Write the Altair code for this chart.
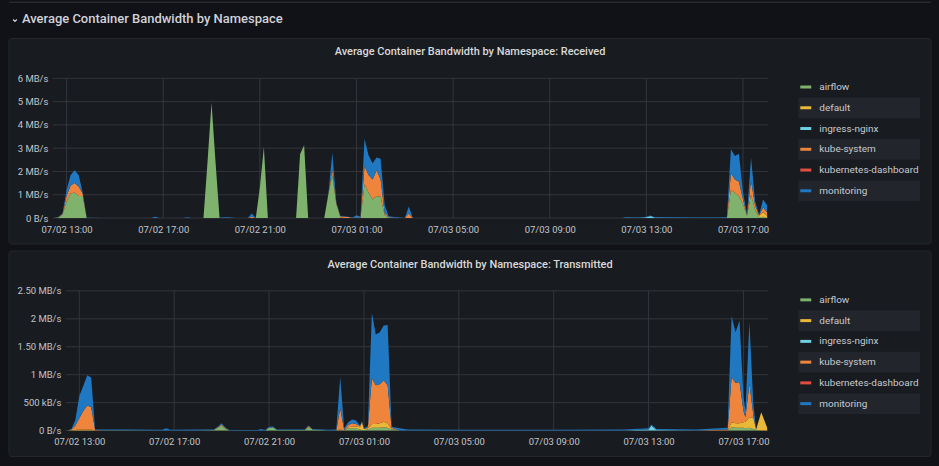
import altair as alt
import pandas as pd

FONT = "Roboto"
BG = "#111217"
PANEL = "#181b1f"
BORDER = "#25282d"
GRID = "#33363b"
STRIPE = "#22252b"
LABEL = "#c2c5cc"
LEGTEXT = "#c7cad1"
TITLE = "#d8d9da"
TEXT_HDR = "#d0d1d9"

NAMESPACES = ["airflow", "default", "ingress-nginx", "kube-system", "kubernetes-dashboard", "monitoring"]
COLORS = ["#7EB26D", "#EAB839", "#6ED0E0", "#EF843C", "#E24D42", "#1F78C1"]

X_TICKS = ["07/02 13:00", "07/02 17:00", "07/02 21:00", "07/03 01:00",
           "07/03 05:00", "07/03 09:00", "07/03 13:00", "07/03 17:00"]
RX_Y_TICKS = [0, 1, 2, 3, 4, 5, 6]
TX_Y_TICKS = [0, 0.5, 1, 1.5, 2, 2.5]

# ---------------- Received (MB/s) ----------------
RX_TIME = [
    "07/02 12:30", "07/02 12:40", "07/02 12:50", "07/02 13:00", "07/02 13:10", "07/02 13:20", "07/02 13:30", "07/02 13:40", "07/02 13:50", "07/02 14:30",
    "07/02 16:30", "07/02 16:40", "07/02 16:50", "07/02 17:50", "07/02 18:00", "07/02 18:10", "07/02 18:40", "07/02 18:50", "07/02 19:00", "07/02 19:10",
    "07/02 19:20", "07/02 19:40", "07/02 20:00", "07/02 20:30", "07/02 20:40", "07/02 20:50", "07/02 21:00", "07/02 21:10", "07/02 21:20", "07/02 22:30",
    "07/02 22:40", "07/02 22:50", "07/02 23:00", "07/02 23:40", "07/02 23:50", "07/03 00:00", "07/03 00:10", "07/03 00:20", "07/03 00:30", "07/03 00:40",
    "07/03 00:50", "07/03 01:00", "07/03 01:10", "07/03 01:20", "07/03 01:30", "07/03 01:40", "07/03 01:50", "07/03 02:00", "07/03 02:10", "07/03 02:20",
    "07/03 02:40", "07/03 03:00", "07/03 03:10", "07/03 03:20", "07/03 12:00", "07/03 12:10", "07/03 12:40", "07/03 13:00", "07/03 13:10", "07/03 13:20",
    "07/03 14:00", "07/03 15:00", "07/03 16:00", "07/03 16:20", "07/03 16:30", "07/03 16:40", "07/03 16:50", "07/03 17:00", "07/03 17:10", "07/03 17:20",
    "07/03 17:30", "07/03 17:40", "07/03 17:50", "07/03 18:00",
]
RX_AIRFLOW = [
    0, 0.02, 0.15, 0.70, 1.05, 1.10, 0.95, 0.95, 0, 0,
    0, 0, 0, 0, 0, 0, 0, 2.40, 4.95, 2.40,
    0, 0, 0, 0, 0, 0, 1.30, 3.05, 0, 0,
    2.75, 3.13, 0, 0, 1.00, 1.85, 0.60, 0.02, 0, 0,
    0, 0, 0, 1.45, 1.10, 0.80, 0.95, 0.90, 0.12, 0,
    0, 0, 0, 0, 0, 0, 0, 0, 0, 0,
    0, 0, 0, 0, 1.20, 1.09, 0.94, 0.60, 0.10, 1.00,
    0.35, 0.02, 0.05, 0,
]
RX_DEFAULT = [
    0, 0, 0, 0, 0, 0, 0, 0, 0, 0,
    0, 0, 0, 0, 0, 0, 0, 0, 0, 0,
    0, 0, 0, 0, 0, 0, 0, 0, 0, 0,
    0, 0, 0, 0, 0, 0, 0, 0, 0, 0,
    0, 0, 0, 0, 0, 0, 0, 0, 0, 0,
    0, 0, 0, 0, 0, 0, 0, 0, 0, 0,
    0, 0, 0, 0, 0, 0, 0, 0, 0, 0,
    0, 0.08, 0.20, 0.10,
]
RX_INGRESS = [
    0, 0, 0, 0, 0, 0, 0, 0, 0, 0,
    0, 0, 0, 0, 0, 0, 0, 0, 0, 0,
    0, 0, 0, 0, 0, 0, 0, 0, 0, 0,
    0, 0, 0, 0, 0, 0, 0, 0, 0, 0,
    0, 0, 0, 0, 0, 0, 0, 0, 0, 0,
    0, 0, 0, 0, 0, 0.01, 0, 0.03, 0.09, 0.02,
    0, 0, 0, 0, 0, 0, 0, 0, 0, 0,
    0, 0, 0, 0,
]
RX_KUBE = [
    0, 0.01, 0.03, 0.25, 0.35, 0.40, 0.40, 0.10, 0, 0,
    0, 0, 0, 0, 0, 0, 0, 0, 0, 0,
    0, 0, 0, 0, 0.05, 0, 0, 0, 0, 0,
    0, 0, 0, 0, 0.02, 0.25, 0.05, 0.06, 0.06, 0.04,
    0, 0.02, 0.02, 0.80, 0.75, 0.85, 1.10, 0.75, 0.10, 0.03,
    0, 0, 0.20, 0, 0, 0, 0, 0, 0, 0,
    0, 0, 0, 0, 0.72, 0.57, 0.62, 0.20, 0.03, 0.60,
    0.20, 0.02, 0.20, 0.15,
]
RX_DASHBOARD = [
    0, 0, 0, 0, 0, 0, 0, 0, 0, 0,
    0, 0, 0, 0, 0, 0, 0, 0, 0, 0,
    0, 0, 0, 0, 0, 0, 0, 0, 0, 0,
    0, 0, 0, 0, 0, 0, 0, 0, 0, 0,
    0, 0, 0, 0, 0, 0, 0, 0, 0, 0,
    0, 0, 0, 0, 0, 0, 0, 0, 0, 0,
    0, 0, 0, 0, 0, 0, 0, 0, 0, 0,
    0, 0, 0, 0,
]
RX_MONITORING = [
    0, 0.02, 0.03, 0.25, 0.45, 0.55, 0.50, 0.05, 0.01, 0,
    0, 0.05, 0, 0, 0.03, 0, 0, 0, 0, 0,
    0.02, 0.03, 0, 0, 0.14, 0, 0, 0, 0, 0,
    0, 0, 0, 0, 0, 0.70, 0.03, 0.02, 0.02, 0.02,
    0.02, 0.10, 0.03, 1.15, 0.85, 0.70, 0.55, 0.90, 0.35, 0.05,
    0.03, 0, 0.30, 0, 0, 0.02, 0.02, 0.02, 0.02, 0.02,
    0.03, 0.02, 0.02, 0.03, 1.03, 1.00, 1.20, 0.30, 0.03, 1.00,
    0.18, 0.02, 0.35, 0.30,
]

# ---------------- Transmitted (MB/s) ----------------
TX_TIME = [
    "07/02 12:30", "07/02 12:40", "07/02 12:50", "07/02 13:00", "07/02 13:10", "07/02 13:20", "07/02 13:30", "07/02 13:40", "07/02 14:00", "07/02 15:00",
    "07/02 16:30", "07/02 16:40", "07/02 16:50", "07/02 18:00", "07/02 18:40", "07/02 18:50", "07/02 19:00", "07/02 19:10", "07/02 19:20", "07/02 20:30",
    "07/02 20:40", "07/02 20:50", "07/02 21:00", "07/02 21:10", "07/02 21:20", "07/02 22:30", "07/02 22:40", "07/02 22:50", "07/02 23:30", "07/02 23:50",
    "07/03 00:00", "07/03 00:10", "07/03 00:20", "07/03 00:30", "07/03 00:40", "07/03 00:50", "07/03 00:55", "07/03 01:00", "07/03 01:10", "07/03 01:20",
    "07/03 01:30", "07/03 01:40", "07/03 01:50", "07/03 02:00", "07/03 02:10", "07/03 02:30", "07/03 02:50", "07/03 05:00", "07/03 09:00", "07/03 12:00",
    "07/03 13:00", "07/03 13:07", "07/03 13:20", "07/03 15:00", "07/03 16:20", "07/03 16:30", "07/03 16:40", "07/03 16:50", "07/03 17:00", "07/03 17:05",
    "07/03 17:15", "07/03 17:25", "07/03 17:32", "07/03 17:45", "07/03 18:00",
]
TX_AIRFLOW = [
    0, 0.005, 0, 0, 0, 0, 0, 0, 0.005, 0.005,
    0, 0, 0, 0, 0.01, 0.05, 0.09, 0.03, 0, 0,
    0, 0, 0.05, 0.06, 0.01, 0.01, 0.06, 0.02, 0, 0,
    0.01, 0, 0.04, 0.04, 0.04, 0.02, 0.01, 0.01, 0.02, 0.05,
    0.05, 0.05, 0.06, 0.05, 0.02, 0, 0, 0, 0, 0,
    0, 0, 0, 0, 0, 0.06, 0.05, 0.05, 0.05, 0.04,
    0.05, 0.03, 0.01, 0, 0,
]
TX_DEFAULT = [
    0, 0.005, 0.01, 0.02, 0.02, 0.02, 0.02, 0, 0, 0,
    0, 0, 0, 0, 0, 0, 0, 0, 0, 0,
    0, 0, 0, 0, 0, 0, 0, 0, 0, 0,
    0.01, 0, 0.02, 0.03, 0.03, 0.04, 0.14, 0.02, 0.02, 0.07,
    0.07, 0.08, 0.10, 0.08, 0.01, 0, 0, 0, 0, 0,
    0, 0, 0, 0, 0, 0.09, 0.08, 0.08, 0.10, 0.12,
    0.19, 0.20, 0.01, 0.33, 0.05,
]
TX_INGRESS = [
    0, 0, 0, 0, 0, 0, 0, 0, 0, 0,
    0, 0, 0, 0, 0, 0, 0, 0, 0, 0,
    0, 0, 0, 0, 0, 0, 0, 0, 0, 0,
    0, 0, 0, 0, 0, 0, 0, 0, 0, 0,
    0, 0, 0, 0, 0, 0, 0, 0, 0, 0,
    0.02, 0.09, 0.01, 0, 0, 0, 0, 0, 0, 0,
    0, 0, 0, 0, 0,
]
TX_KUBE = [
    0, 0.01, 0.08, 0.20, 0.33, 0.43, 0.40, 0.01, 0, 0,
    0, 0, 0, 0, 0, 0.01, 0.02, 0.01, 0, 0,
    0, 0, 0, 0, 0, 0, 0.02, 0, 0, 0,
    0.38, 0.01, 0.04, 0.06, 0.05, 0.02, 0.01, 0, 0.02, 0.82,
    0.69, 0.70, 0.74, 0.68, 0.02, 0, 0, 0, 0, 0,
    0, 0, 0, 0, 0.02, 0.81, 0.72, 0.74, 0.20, 0.08,
    0.60, 0.05, 0, 0, 0,
]
TX_DASHBOARD = [
    0, 0, 0, 0, 0, 0, 0, 0, 0, 0,
    0, 0, 0, 0, 0, 0, 0, 0, 0, 0,
    0, 0, 0, 0, 0, 0, 0, 0, 0, 0,
    0, 0, 0, 0, 0, 0, 0, 0, 0, 0,
    0, 0, 0, 0, 0, 0, 0, 0, 0, 0,
    0, 0, 0, 0, 0, 0, 0, 0, 0, 0,
    0, 0, 0, 0, 0,
]
TX_MONITORING = [
    0, 0.01, 0.10, 0.40, 0.45, 0.54, 0.53, 0.01, 0.015, 0.015,
    0.015, 0.04, 0.015, 0.02, 0.01, 0.01, 0.02, 0.01, 0.01, 0.01,
    0.03, 0.01, 0.02, 0.015, 0.01, 0.01, 0.01, 0.01, 0.015, 0.02,
    0.56, 0.03, 0.05, 0.07, 0.06, 0.01, 0.01, 0.01, 0.02, 1.17,
    0.91, 0.93, 0.98, 1.08, 0.02, 0.04, 0.02, 0.015, 0.015, 0.02,
    0.02, 0.02, 0.02, 0.02, 0.03, 1.09, 0.91, 1.10, 0.25, 0.12,
    1.10, 0.20, 0.01, 0, 0,
]


def iso(s):
    return pd.to_datetime("2023/" + s, format="%Y/%m/%d %H:%M").strftime("%Y-%m-%dT%H:%M:%S")


def dt(s):
    d = pd.to_datetime("2023/" + s, format="%Y/%m/%d %H:%M")
    return alt.DateTime(year=d.year, month=d.month, date=d.day, hours=d.hour, minutes=d.minute)


def long_table(times, series):
    rows = []
    for i, t in enumerate(times):
        for k, (ns, vals) in enumerate(zip(NAMESPACES, series)):
            rows.append({"t": iso(t), "ns": ns, "k": k, "v": vals[i]})
    return pd.DataFrame(rows)


T0 = dt("07/02 12:26")
T1 = dt("07/03 18:03")
CSCALE = alt.Scale(domain=NAMESPACES, range=COLORS)
ONE = pd.DataFrame({"a": [0]})
LEFT = 52     # absolute x of the plot group origin (both panels)
W = 717
H = 140
CHEVRON = "M-1,-0.5L0,0.5L1,-0.5"


def panel_chart(times, series, inset, top, ymax, yticks, yexpr, title, title_y,
                py0, py1, leg_y0, first):
    left = LEFT
    df = long_table(times, series)
    xenc = alt.X(
        "t:T", title=None, scale=alt.Scale(domain=[T0, T1], range=[inset, W]),
        axis=alt.Axis(values=[dt(s) for s in X_TICKS], format="%m/%d %H:%M", grid=False,
                      ticks=False, domain=False, labelPadding=6, labelFontSize=9.5, zindex=1,
                      labelColor=LABEL, labelFont=FONT, labelFlush=False, labelOverlap=False))
    yscale = alt.Scale(domain=[0, ymax], nice=False, zero=True)
    yenc = alt.Y(
        "v:Q", stack="zero", title=None, scale=yscale,
        axis=alt.Axis(values=yticks, labelExpr=yexpr, grid=False, ticks=False, domain=False,
                      labelPadding=5, labelFontSize=9.5, labelColor=LABEL, labelFont=FONT,
                      labelFlush=False, labelOverlap=False, zindex=1, offset=-inset))

    layers = []
    if first:
        layers.append(alt.Chart(ONE).mark_rect(fill=BG).encode(
            x=alt.value(0 - left), x2=alt.value(939 - left),
            y=alt.value(0 - top), y2=alt.value(1 - top)))
        layers.append(alt.Chart(ONE).mark_rect(fill=BORDER).encode(
            x=alt.value(8 - left), x2=alt.value(932 - left),
            y=alt.value(0 - top), y2=alt.value(1.5 - top)))
        layers.append(alt.Chart(ONE).mark_point(
            shape=CHEVRON, size=14, filled=False, stroke=TEXT_HDR, strokeWidth=1.2,
            opacity=1).encode(x=alt.value(14 - left), y=alt.value(19 - top)))
        layers.append(alt.Chart(ONE).mark_text(
            text="Average Container Bandwidth by Namespace", fontSize=13, fontWeight=500,
            color=TEXT_HDR, font=FONT, align="left", baseline="middle").encode(
            x=alt.value(21 - left), y=alt.value(18 - top)))
    else:
        layers.append(alt.Chart(ONE).mark_rect(fill=BG).encode(
            x=alt.value(0 - left), x2=alt.value(939 - left),
            y=alt.value(457 - top), y2=alt.value(466 - top)))

    layers.append(alt.Chart(ONE).mark_rect(
        fill=PANEL, stroke=BORDER, strokeWidth=1, cornerRadius=3).encode(
        x=alt.value(8 - left), x2=alt.value(932 - left),
        y=alt.value(py0 - top), y2=alt.value(py1 - top)))

    layers.append(alt.Chart(ONE).mark_text(
        text=title, fontSize=11, fontWeight=500, color=TITLE, font=FONT,
        align="center", baseline="middle").encode(
        x=alt.value(470 - left), y=alt.value(title_y - top)))

    layers.append(alt.Chart(pd.DataFrame({"t": [iso(s) for s in X_TICKS]})).mark_rule(
        color=GRID, strokeWidth=1).encode(x=xenc, y=alt.value(0), y2=alt.value(H)))
    layers.append(alt.Chart(pd.DataFrame({"gv": yticks})).mark_rule(
        color=GRID, strokeWidth=1).encode(
        y=alt.Y("gv:Q", scale=yscale, axis=None), x=alt.value(inset), x2=alt.value(W)))

    layers.append(alt.Chart(df).mark_area(opacity=1, interpolate="linear").encode(
        x=xenc, y=yenc,
        color=alt.Color("ns:N", scale=CSCALE, legend=None),
        order=alt.Order("k:Q", sort="ascending")))

    yleg = alt.Y("ns:N", axis=None,
                 scale=alt.Scale(type="point", domain=NAMESPACES, padding=0,
                                 range=[leg_y0 - top, leg_y0 - top + 5 * 20.8]))
    layers.append(alt.Chart(pd.DataFrame({"ns": NAMESPACES[1::2]})).mark_rule(
        color=STRIPE, strokeWidth=20.8).encode(
        y=yleg, x=alt.value(799 - left), x2=alt.value(921 - left)))
    layers.append(alt.Chart(pd.DataFrame({"ns": NAMESPACES})).mark_rule(strokeWidth=3).encode(
        y=yleg, x=alt.value(801 - left), x2=alt.value(812 - left),
        color=alt.Color("ns:N", scale=CSCALE, legend=None)))
    layers.append(alt.Chart(pd.DataFrame({"ns": NAMESPACES})).mark_text(
        align="left", baseline="middle", fontSize=10, color=LEGTEXT, font=FONT).encode(
        y=yleg, x=alt.value(820 - left), text="ns:N"))

    return alt.layer(*layers).resolve_scale(y="independent").properties(width=W, height=H)


RX_EXPR = "datum.value == 0 ? '0 B/s' : format(datum.value, 'd') + ' MB/s'"
TX_EXPR = ("datum.value == 0 ? '0 B/s' : datum.value < 1 ? format(datum.value * 1000, 'd') + ' kB/s' : "
           "(datum.value % 1 == 0 ? format(datum.value, 'd') : format(datum.value, '.2f')) + ' MB/s'")

rx = panel_chart(RX_TIME, [RX_AIRFLOW, RX_DEFAULT, RX_INGRESS, RX_KUBE, RX_DASHBOARD, RX_MONITORING],
                 0, 77, 6, RX_Y_TICKS, RX_EXPR,
                 "Average Container Bandwidth by Namespace: Received", 50.5,
                 37, 243, 85.7, True)
tx = panel_chart(TX_TIME, [TX_AIRFLOW, TX_DEFAULT, TX_INGRESS, TX_KUBE, TX_DASHBOARD, TX_MONITORING],
                 13, 290, 2.5, TX_Y_TICKS, TX_EXPR,
                 "Average Container Bandwidth by Namespace: Transmitted", 264,
                 250, 456, 299, False)

chart = alt.vconcat(rx, tx, spacing=5, padding=0, background=BG).configure_view(
    stroke=None).configure(font=FONT)

chart.save("out.html", embed_options={"renderer": "svg", "actions": False})
